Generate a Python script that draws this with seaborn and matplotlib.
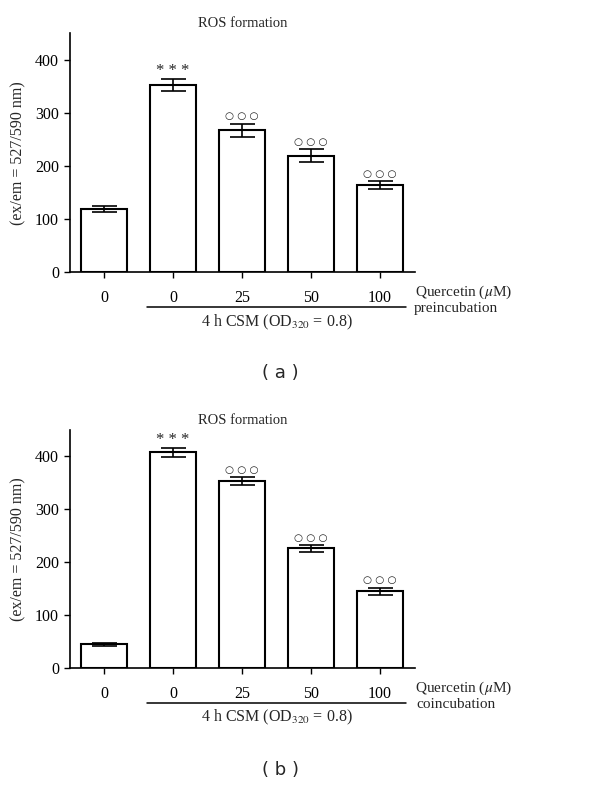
import matplotlib
matplotlib.use("Agg")
import matplotlib.pyplot as plt
import seaborn as sns
import pandas as pd
import numpy as np
from matplotlib.transforms import blended_transform_factory

sns.set_theme(style="ticks")
plt.rcParams['font.family'] = ['Liberation Serif', 'DejaVu Sans']
plt.rcParams['mathtext.fontset'] = 'stix'

categories = ["0", "0 ", "25", "50", "100"]
tick_labels = ["0", "0", "25", "50", "100"]
pre_means = [119, 352, 267, 219, 164]
pre_sem = [5.5, 11, 12.7, 12.3, 7]
co_means = [45, 407, 353, 226, 145]
co_sem = [3.4, 8.5, 7, 7, 7]
marks = ["", "* * *", "○ ○ ○", "○ ○ ○", "○ ○ ○"]

fig = plt.figure(figsize=(6.0, 7.87), dpi=100)

def panel(rect, means, sems, mode, letter, letter_y):
    ax = fig.add_axes(rect)
    df = pd.DataFrame({"cat": categories, "val": means})
    sns.barplot(data=df, x="cat", y="val", ax=ax, color="white", edgecolor="black",
                linewidth=1.5, width=0.667, errorbar=None, saturation=1)
    x = np.arange(len(means))
    ax.errorbar(x, means, yerr=sems, fmt="none", ecolor="black", elinewidth=1.2,
                capsize=9, capthick=1.2)
    ax.set_xlim(-0.49, 4.51)
    ax.set_ylim(0, 450)
    ax.set_yticks([0, 100, 200, 300, 400])
    ax.set_xticks(x)
    ax.set_xticklabels(tick_labels)
    ax.set_xlabel("")
    ax.set_ylabel("(ex/em = 527/590 nm)", fontsize=11.5, labelpad=6)
    sns.despine(ax=ax)
    for s in ["left", "bottom"]:
        ax.spines[s].set_linewidth(1.2)
        ax.spines[s].set_color("black")
    ax.tick_params(axis="both", labelsize=11.5, direction="out", length=4, width=1.0,
                   colors="black", pad=4)
    ax.tick_params(axis="x", pad=9)
    ax.set_title("ROS formation", fontsize=10.5, pad=4)
    for xi, (m, s, t) in enumerate(zip(means, sems, marks)):
        if not t:
            continue
        if "*" in t:
            ax.text(xi, m + s + 0.5, t, ha="center", va="bottom", fontsize=12,
                    family="Liberation Serif")
        else:
            ax.text(xi, m + s + 4, t, ha="center", va="bottom", fontsize=7.5,
                    family="DejaVu Sans")
    tr = blended_transform_factory(ax.transData, ax.transAxes)
    ax.plot([0.62, 4.38], [-0.145, -0.145], color="black", lw=1.1, transform=tr,
            clip_on=False)
    ax.text(2.5, -0.168, r"4 h CSM (OD$_{320}$ = 0.8)", transform=tr, ha="center",
            va="top", fontsize=11.5)
    ax.text(4.51, -0.083, r"Quercetin ($\mu$M)", transform=tr, ha="left",
            va="center", fontsize=11)
    ax.text(5.1, -0.152, mode, transform=tr, ha="center", va="center", fontsize=11)
    fig.text(0.468, letter_y, f"( {letter} )", ha="center", va="center",
             fontsize=13, family="DejaVu Sans")
    return ax

panel([0.117, 0.654, 0.575, 0.304], pre_means, pre_sem, "preincubation", "a", 1 - 373 / 787)
panel([0.117, 0.151, 0.575, 0.303], co_means, co_sem, "coincubation", "b", 1 - 770 / 787)

fig.savefig("out.png", dpi=100)
